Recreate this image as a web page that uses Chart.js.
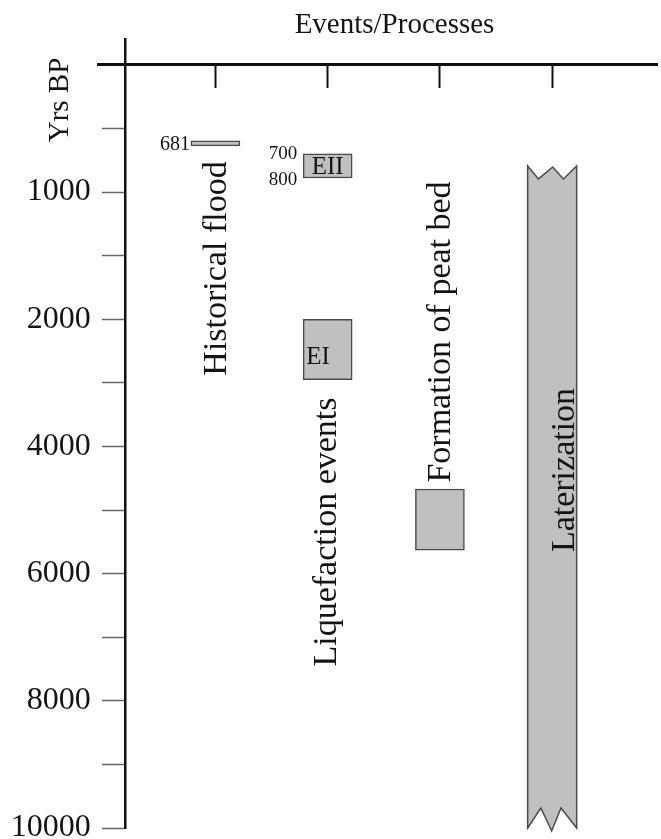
<!DOCTYPE html>
<html><head><meta charset="utf-8">
<script src="https://cdn.jsdelivr.net/npm/chart.js@4.4.0/dist/chart.umd.min.js"></script>
<style>html,body{margin:0;padding:0;background:#fff}#wrap{width:661px;height:839px;position:relative}</style>
</head><body><div id="wrap"><canvas id="c"></canvas></div>
<script>
// ---------------- data ----------------
const categories = ['Historical flood', 'Liquefaction events', 'Formation of peat bed', 'Laterization'];
const floodSpan = [597, 637];          // Yrs BP (bar as drawn)
const floodLabel = '681';
const eiiSpan = [700, 890];
const eiiEdgeLabels = ['700', '800'];
const eiSpan = [2000, 2950];
const peatSpan = [4670, 5630];
const lateriteSpan = [795, 10000];
const yBreaks = [0, 500, 1000, 1500, 2000, 3000, 4000, 5000, 6000, 7000, 8000, 9000, 10000];
const yTickLabels = [1000, 2000, 4000, 6000, 8000, 10000];
const chartTitle = 'Events/Processes';
const yTitle = 'Yrs BP';

// ---------------- styles ----------------
const FONT = "'Liberation Serif', 'Times New Roman', serif";
const FILL = '#c0c0c0';
const EDGE = '#4a4a4a';
const INK = '#141414';
const LABEL_STYLE = [{dx: 10.7, cy: 268.5}, {dx: 8.6, cy: 532}, {dx: 9.6, cy: 332}, {dx: 21.5, cy: 470}];

// piecewise (broken) time axis: equal spacing between successive breaks
function toIdx(v) {
  const b = yBreaks, n = b.length - 1;
  if (v <= b[0]) return (v - b[0]) / (b[1] - b[0]);
  for (let i = 1; i <= n; i++) if (v <= b[i]) return i - 1 + (v - b[i - 1]) / (b[i] - b[i - 1]);
  return n + (v - b[n]) / (b[n] - b[n - 1]);
}
function fromIdx(f) {
  const b = yBreaks, n = b.length - 1;
  if (f <= 0) return b[0] + f * (b[1] - b[0]);
  if (f >= n) return b[n] + (f - n) * (b[n] - b[n - 1]);
  const i = Math.floor(f);
  return b[i] + (f - i) * (b[i + 1] - b[i]);
}
class BreakScale extends Chart.LinearScale {
  buildTicks() { return yBreaks.filter(v => v > 0).map(v => ({value: v})); }
  getPixelForValue(v) {
    const a = toIdx(this.min), b = toIdx(this.max);
    return this.getPixelForDecimal((toIdx(v) - a) / (b - a));
  }
  getValueForPixel(p) {
    const a = toIdx(this.min), b = toIdx(this.max);
    return fromIdx(a + this.getDecimalForPixel(p) * (b - a));
  }
  getPadding() { return {left: 0, top: 0, right: 0, bottom: 0}; }
  _computeLabelItems(chartArea) {
    const items = super._computeLabelItems(chartArea);
    const shift = this.options.grid.tickLength + this.options.ticks.padding;
    items.forEach(it => {
      const t = it.options.translation;
      it.options.translation = [t[0] - shift, t[1]];
    });
    return items;
  }
}
BreakScale.id = 'breaks';
BreakScale.defaults = Chart.LinearScale.defaults;
Chart.register(BreakScale);

function rotText(ctx, txt, x, y, size) {
  ctx.save();
  ctx.translate(x, y);
  ctx.rotate(-Math.PI / 2);
  ctx.font = size + 'px ' + FONT;
  ctx.textAlign = 'center';
  ctx.textBaseline = 'alphabetic';
  ctx.fillStyle = INK;
  ctx.fillText(txt, 0, 0);
  ctx.restore();
}
function barBox(chart, di) {
  const el = chart.getDatasetMeta(di).data[0];
  const p = el.getProps(['x', 'y', 'base', 'width'], true);
  return {l: p.x - p.width / 2, r: p.x + p.width / 2, t: Math.min(p.y, p.base), b: Math.max(p.y, p.base), cx: p.x, w: p.width};
}

const annot = {
  id: 'annot',
  afterDatasetsDraw(chart) {
    const ctx = chart.ctx, xs = chart.scales.x;
    // laterization column with torn ends
    const L = barBox(chart, 4);
    ctx.save();
    ctx.beginPath();
    ctx.moveTo(L.l, L.t);
    ctx.lineTo(L.l + L.w * 0.22, L.t + 13);
    ctx.lineTo(L.l + L.w * 0.51, L.t + 1);
    ctx.lineTo(L.l + L.w * 0.73, L.t + 13);
    ctx.lineTo(L.r, L.t);
    ctx.lineTo(L.r, L.b);
    ctx.lineTo(L.l + L.w * 0.68, L.b - 20);
    ctx.lineTo(L.l + L.w * 0.49, L.b + 3);
    ctx.lineTo(L.l + L.w * 0.27, L.b - 20);
    ctx.lineTo(L.l, L.b);
    ctx.closePath();
    ctx.fillStyle = FILL; ctx.fill();
    ctx.lineWidth = 1.5; ctx.strokeStyle = EDGE; ctx.lineJoin = 'miter'; ctx.stroke();
    ctx.restore();

    // rotated category labels
    categories.forEach((c, i) => {
      rotText(ctx, c, xs.getPixelForValue(i) + LABEL_STYLE[i].dx, LABEL_STYLE[i].cy, 34);
    });

    ctx.save();
    ctx.fillStyle = INK;
    // flood value label
    const F = barBox(chart, 0);
    ctx.font = '20px ' + FONT; ctx.textAlign = 'right'; ctx.textBaseline = 'middle';
    ctx.fillText(floodLabel, F.l - 1, (F.t + F.b) / 2 + 1);
    // EII
    const E2 = barBox(chart, 1);
    ctx.font = '19px ' + FONT;
    ctx.fillText(eiiEdgeLabels[0], E2.l - 6, E2.t);
    ctx.fillText(eiiEdgeLabels[1], E2.l - 6, E2.b + 2);
    ctx.font = '25px ' + FONT; ctx.textAlign = 'center';
    ctx.fillText('EII', E2.cx, (E2.t + E2.b) / 2 + 1);
    // EI
    const E1 = barBox(chart, 2);
    ctx.textAlign = 'left';
    ctx.fillText('EI', E1.l + 3, E1.t + (E1.b - E1.t) * 0.63);
    // titles
    ctx.font = '29px ' + FONT; ctx.textAlign = 'center'; ctx.textBaseline = 'alphabetic';
    ctx.fillText(chartTitle, 394.5, 33);
    ctx.restore();
    rotText(ctx, yTitle, 68, 100, 29);
  }
};

const barStyle = {backgroundColor: FILL, borderColor: EDGE, borderWidth: 1.5, borderSkipped: false, grouped: false, barThickness: 49};

new Chart(document.getElementById('c'), {
  type: 'bar',
  data: {
    datasets: [
      Object.assign({label: categories[0], data: [{x: 0, y: floodSpan}]}, barStyle),
      Object.assign({label: 'EII', data: [{x: 1, y: eiiSpan}]}, barStyle),
      Object.assign({label: 'EI', data: [{x: 1, y: eiSpan}]}, barStyle),
      Object.assign({label: categories[2], data: [{x: 2, y: peatSpan}]}, barStyle),
      Object.assign({label: categories[3], data: [{x: 3, y: lateriteSpan}]}, barStyle, {backgroundColor: 'rgba(0,0,0,0)', borderWidth: 0})
    ]
  },
  options: {
    responsive: true,
    maintainAspectRatio: false,
    animation: false,
    devicePixelRatio: 1,
    layout: {padding: {left: 98, right: 4, top: 39, bottom: 11}},
    plugins: {legend: {display: false}, tooltip: {enabled: false}, title: {display: false}},
    scales: {
      x: {
        type: 'linear',
        position: {y: 0},
        offset: false,
        min: -1.046, max: 3.934,
        afterBuildTicks: s => { s.ticks = categories.map((_, i) => ({value: i})); },
        ticks: {display: false},
        grid: {display: true, offset: false, drawOnChartArea: false, drawTicks: true, tickLength: 22, tickColor: '#111', tickWidth: 2},
        border: {display: true, color: '#111', width: 3}
      },
      y: {
        type: 'breaks',
        position: {x: -0.799},
        reverse: true,
        min: -203, max: 10000,
        ticks: {
          autoSkip: false,
          padding: 13,
          color: INK,
          font: {family: FONT, size: 32},
          callback: v => yTickLabels.includes(v) ? String(v) : ''
        },
        grid: {display: true, drawOnChartArea: false, drawTicks: true, tickLength: 22, tickColor: '#666', tickWidth: 1.5},
        border: {display: true, color: '#111', width: 2.5}
      }
    }
  },
  plugins: [annot]
});
</script>
</body></html>
